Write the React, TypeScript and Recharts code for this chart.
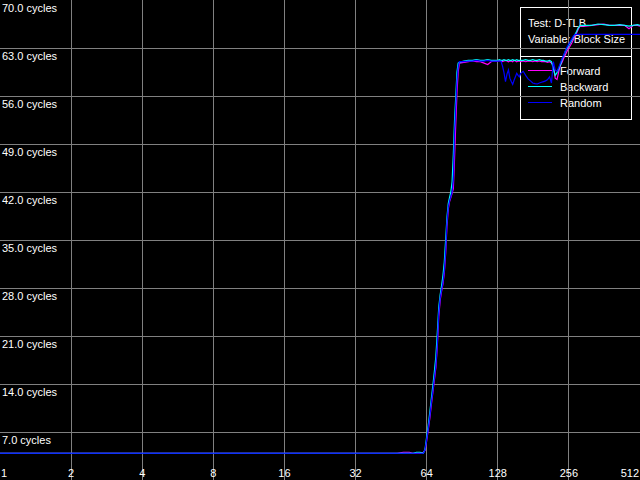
import { CartesianGrid, Line, LineChart, XAxis, YAxis } from 'recharts';

// block size (x) for every sample
const blockSizes = [
  1, 2, 4, 8, 16, 32, 48, 51, 54, 56, 58, 60, 62, 63,
  64, 65, 66, 67, 68, 69, 70, 71, 72, 73, 74, 75, 76, 77, 78, 79, 80, 81, 82, 83, 84, 85, 86, 87, 88,
  92, 96, 100, 104, 108, 112, 116, 120, 124,
  128, 130, 132, 134, 136, 138, 140, 142, 144, 146, 148, 150, 152, 154, 156, 158, 160,
  164, 168, 172, 176, 180, 184, 188, 192, 196, 200, 204, 208, 212, 216, 220, 224,
  228, 232, 236, 240, 244, 248, 252, 256, 260, 264, 268, 272, 276, 280, 284, 288,
  300, 320, 340, 360, 380, 400, 420, 440, 460, 480, 500, 512,
];

const forward = [
  3.9, 3.9, 3.9, 3.9, 3.9, 3.9, 3.9, 4.05, 4.05, 3.9, 3.9, 3.9, 4.05, 4.3,
  5.7, 7.3, 9.0, 11.0, 12.8, 14.6, 16.4, 19.5, 23.8, 26.2, 27.5, 28.6, 30.2, 33.0, 37.0, 39.5, 40.6, 41.2, 41.8, 42.5, 47.0, 52.0, 56.5, 59.5, 60.8,
  60.9, 61.0, 61.1, 61.0, 61.0, 60.8, 60.6, 61.0, 61.1,
  61.1, 61.2, 61.1, 61.0, 61.1, 61.2, 61.1, 61.0, 61.1, 61.1, 61.0, 61.2, 61.1, 61.0, 61.1, 61.1, 61.0,
  61.1, 61.0, 61.1, 61.1, 61.0, 61.1, 61.0, 61.1, 61.0, 61.0, 61.0, 60.9, 61.0, 60.8, 60.5, 58.6,
  58.4, 59.6, 60.5, 61.0, 61.6, 62.1, 62.6, 63.0, 63.4, 63.8, 64.3, 64.7, 65.2, 65.7, 66.1, 66.2,
  66.2, 66.3, 66.4, 66.5, 66.3, 66.3, 66.3, 66.3, 65.8, 66.3, 66.3, 66.2,
];

const backward = [
  3.9, 3.9, 3.9, 3.9, 3.9, 3.9, 3.9, 3.9, 3.9, 3.9, 4.05, 4.05, 3.9, 4.5,
  6.3, 8.0, 9.9, 11.9, 13.8, 15.8, 18.0, 21.5, 25.2, 27.0, 28.3, 29.8, 31.8, 35.0, 38.3, 40.3, 41.2, 42.0, 43.5, 47.5, 52.5, 56.0, 59.5, 60.8, 60.9,
  61.1, 61.2, 61.2, 61.3, 61.2, 61.2, 61.3, 61.2, 61.2,
  61.2, 61.3, 61.2, 61.2, 61.3, 61.2, 61.2, 61.3, 61.2, 61.2, 61.3, 61.2, 61.2, 61.3, 61.2, 61.2, 61.2,
  61.2, 61.3, 61.2, 61.2, 61.3, 61.2, 61.2, 61.3, 61.2, 61.2, 61.1, 61.1, 61.2, 61.0, 60.0, 59.0,
  59.4, 60.0, 60.6, 61.4, 62.0, 62.6, 63.0, 63.4, 63.8, 64.2, 64.6, 65.0, 65.4, 65.9, 66.2, 66.3,
  66.3, 66.3, 66.5, 66.4, 66.3, 66.3, 66.4, 66.3, 66.2, 66.3, 66.4, 66.3,
];

const random = [
  3.9, 3.9, 3.9, 3.9, 3.9, 3.9, 3.9, 3.9, 3.9, 3.9, 3.9, 3.9, 3.9, 4.4,
  5.9, 7.5, 9.3, 11.3, 13.0, 14.9, 16.7, 19.8, 24.3, 26.5, 27.7, 28.8, 30.5, 33.4, 37.5, 39.8, 40.7, 41.3, 42.0, 43.7, 50.5, 54.5, 58.3, 60.2, 61.0,
  61.0, 61.1, 61.1, 61.2, 61.1, 61.1, 61.2, 61.1, 61.1,
  61.1, 61.1, 61.1, 60.4, 59.4, 58.1, 59.2, 59.8, 58.6, 58.1, 57.7, 58.3, 58.8, 59.3, 59.0, 58.8, 59.3,
  59.6, 59.0, 58.5, 58.2, 57.9, 57.8, 57.75, 57.9, 58.0, 58.1, 58.2, 58.4, 58.8, 57.9, 61.0, 59.8,
  59.6, 60.2, 60.9, 61.5, 62.1, 62.7, 63.2, 63.6, 64.0, 64.4, 64.8, 65.0, 65.0, 65.0, 65.0, 65.0,
  65.0, 65.0, 65.0, 65.0, 65.0, 65.0, 65.0, 65.0, 65.0, 65.0, 65.0, 65.0,
];

const xTicks = [1, 2, 4, 8, 16, 32, 64, 128, 256, 512];
const yTicks = [7, 14, 21, 28, 35, 42, 49, 56, 63, 70];
const gridX = [2, 4, 8, 16, 32, 64, 128, 256];
const gridY = [7, 14, 21, 28, 35, 42, 49, 56, 63];
const legendTitle = ['Test: D-TLB', 'Variable: Block Size'];

const series = [
  { key: 'forward', name: 'Forward', color: '#ff00ff' },
  { key: 'backward', name: 'Backward', color: '#00ffff' },
  { key: 'random', name: 'Random', color: '#0000ff' },
];

const data = blockSizes.map((size, i) => ({
  size,
  forward: forward[i],
  backward: backward[i],
  random: random[i],
}));

const W = 640;
const H = 480;
const font = '"Liberation Sans", Arial, sans-serif';

const XTick = ({ x, payload }: any) => {
  const v = payload.value;
  let anchor = 'middle';
  let dx = 0;
  if (v === xTicks[0]) { anchor = 'start'; dx = 1; }
  if (v === xTicks[xTicks.length - 1]) { anchor = 'end'; dx = -1; }
  return (
    <text x={x + dx} y={H - 3} textAnchor={anchor} fill="#fff" fontSize={11} fontFamily={font}>
      {v}
    </text>
  );
};

const YTick = ({ y, payload }: any) => (
  <text x={2} y={y + 12} textAnchor="start" fill="#fff" fontSize={11} fontFamily={font}>
    {payload.value.toFixed(1)} cycles
  </text>
);

function LegendBox() {
  return (
    <svg width={W} height={H} style={{ position: 'absolute', left: 0, top: 0 }}>
      <g shapeRendering="crispEdges">
        <rect x={520.5} y={7.5} width={111} height={112} fill="none" stroke="#fff" />
        <line x1={520.5} x2={631.5} y1={56.5} y2={56.5} stroke="#fff" />
        {series.map((s, i) => (
          <line key={s.key} x1={528} x2={552} y1={70.5 + i * 16} y2={70.5 + i * 16} stroke={s.color} strokeWidth={1.2} />
        ))}
      </g>
      {legendTitle.map((t, i) => (
        <text key={t} x={528} y={27 + i * 16} fill="#fff" fontSize={11} fontFamily={font}>
          {t}
        </text>
      ))}
      {series.map((s, i) => (
        <text key={s.key} x={560} y={75 + i * 16} fill="#fff" fontSize={11} fontFamily={font}>
          {s.name}
        </text>
      ))}
    </svg>
  );
}

export default function App() {
  return (
    <div style={{ position: 'absolute', left: 0, top: 0, width: W, height: H, background: '#000' }}>
      <LegendBox />
      <div style={{ position: 'absolute', left: 0, top: 0 }}>
        <LineChart
          width={W}
          height={H}
          data={data}
          margin={{ top: 0, right: 0, bottom: 0, left: 0 }}
        >
          <CartesianGrid
            stroke="#808080"
            horizontalValues={gridY}
            verticalValues={gridX}
            shapeRendering="crispEdges"
          />
          <XAxis
            dataKey="size"
            type="number"
            scale="log"
            domain={[1, 512]}
            ticks={xTicks}
            interval={0}
            mirror
            axisLine={false}
            tickLine={false}
            tick={<XTick />}
            allowDataOverflow
          />
          <YAxis
            type="number"
            domain={[0, 70]}
            ticks={yTicks}
            interval={0}
            mirror
            axisLine={false}
            tickLine={false}
            tick={<YTick />}
            allowDataOverflow
          />
          {series.map((s) => (
            <Line
              key={s.key}
              dataKey={s.key}
              name={s.name}
              type="linear"
              stroke={s.color}
              strokeWidth={1.2}
              dot={false}
              activeDot={false}
              isAnimationActive={false}
            />
          ))}
        </LineChart>
      </div>
    </div>
  );
}
